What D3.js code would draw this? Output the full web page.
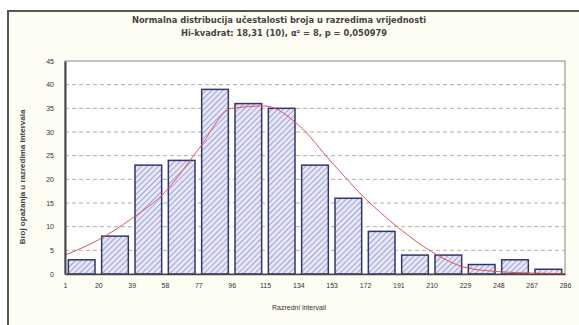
<!DOCTYPE html>
<html>
<head>
<meta charset="utf-8">
<script src="https://cdn.jsdelivr.net/npm/d3@7"></script>
<style>
  body { margin: 0; background: #fff; }
  svg { display: block; font-family: Arial, "Liberation Sans", sans-serif; }
</style>
</head>
<body>
<svg id="chart" width="579" height="325"></svg>
<script>
// class boundaries (x tick labels)
const classBounds = [1, 20, 39, 58, 77, 96, 115, 134, 153, 172, 191, 210, 229, 248, 267, 286]
// observed frequency per class
const frequencies = [3, 8, 23, 24, 39, 36, 35, 23, 16, 9, 4, 4, 2, 3, 1]
// expected (normal) frequency at the class boundaries
const expected = [4, 7.2, 11.7, 17.3, 26.3, 35, 35.5, 31.5, 23.6, 16, 9.8, 4.7, 1.4, 0.5, 0.2, 0.05]
const yTicks = [0, 5, 10, 15, 20, 25, 30, 35, 40, 45]

const titleLine1 = 'Normalna distribucija učestalosti broja u razredima vrijednosti'
const titleLine2 = 'Hi-kvadrat: 18,31 (10), α² = 8, p = 0,050979'

const margin = { top: 61, right: 14, bottom: 51, left: 65 }
const width = 579 - margin.left - margin.right
const height = 325 - margin.top - margin.bottom

const svg = d3.select('#chart')

// chart background + frame
svg.append('rect')
  .attr('x', 8).attr('y', 11)
  .attr('width', 580).attr('height', 320)
  .attr('fill', '#fdfdf3')
  .attr('stroke', '#555')
  .attr('stroke-width', 2)

// hatch pattern for the bars
const defs = svg.append('defs')
const pat = defs.append('pattern')
  .attr('id', 'hatch')
  .attr('patternUnits', 'userSpaceOnUse')
  .attr('width', 4).attr('height', 4)
  .attr('patternTransform', 'rotate(45)')
pat.append('rect').attr('width', 4).attr('height', 4).attr('fill', '#e5e7f7')
pat.append('line')
  .attr('x1', 0).attr('y1', 0).attr('x2', 0).attr('y2', 4)
  .attr('stroke', '#7a7fc4').attr('stroke-width', 1.3)

const g = svg.append('g').attr('transform', `translate(${margin.left},${margin.top})`)

const x = d3.scaleLinear().domain([classBounds[0], classBounds[classBounds.length - 1]]).range([0, width])
const y = d3.scaleLinear().domain([0, 45]).range([height, 0])

// plot area
g.append('rect')
  .attr('width', width).attr('height', height)
  .attr('fill', '#fff')
  .attr('stroke', '#888')

// grid
g.selectAll('.grid')
  .data(yTicks.filter((d) => d > 0 && d < 45))
  .join('line')
  .attr('class', 'grid')
  .attr('x1', 0).attr('x2', width)
  .attr('y1', (d) => y(d)).attr('y2', (d) => y(d))
  .attr('stroke', '#9a9a9a')
  .attr('stroke-width', 0.8)
  .attr('stroke-dasharray', '4,3')

// bars
g.selectAll('.bar')
  .data(frequencies)
  .join('rect')
  .attr('class', 'bar')
  .attr('x', (d, i) => {
    const x0 = x(classBounds[i]), x1 = x(classBounds[i + 1])
    return x0 + (x1 - x0) * 0.1
  })
  .attr('width', (d, i) => (x(classBounds[i + 1]) - x(classBounds[i])) * 0.8)
  .attr('y', (d) => y(d))
  .attr('height', (d) => height - y(d))
  .attr('fill', 'url(#hatch)')
  .attr('stroke', '#34356b')
  .attr('stroke-width', 1.5)

// normal curve
const line = d3.line()
  .x((d, i) => x(classBounds[i]))
  .y((d) => y(d))
  .curve(d3.curveMonotoneX)

g.append('path')
  .datum(expected)
  .attr('fill', 'none')
  .attr('stroke', '#e0525a')
  .attr('stroke-width', 1)
  .attr('d', line)

// axes
g.append('g')
  .attr('transform', `translate(0,${height})`)
  .call(d3.axisBottom(x).tickValues(classBounds).tickSize(0).tickPadding(9))
  .call((a) => a.select('.domain').attr('stroke', '#444').attr('stroke-width', 1.5))
  .call((a) => a.selectAll('text').attr('font-size', 7).attr('fill', '#333').attr('font-family', 'Arial, sans-serif'))

g.append('g')
  .call(d3.axisLeft(y).tickValues(yTicks).tickSize(0).tickPadding(11))
  .call((a) => a.select('.domain').attr('stroke', '#444').attr('stroke-width', 2))
  .call((a) => a.selectAll('text').attr('font-size', 7).attr('fill', '#333').attr('font-family', 'Arial, sans-serif'))

// titles
svg.append('text')
  .attr('x', 279).attr('y', 23)
  .attr('text-anchor', 'middle')
  .attr('font-family', '"DejaVu Sans", sans-serif')
  .attr('font-size', 8.3).attr('font-weight', 'bold').attr('fill', '#444')
  .text(titleLine1)

svg.append('text')
  .attr('x', 284).attr('y', 36)
  .attr('text-anchor', 'middle')
  .attr('font-family', '"DejaVu Sans", sans-serif')
  .attr('font-size', 8.3).attr('font-weight', 'bold').attr('fill', '#444')
  .text(titleLine2)

svg.append('text')
  .attr('x', 299).attr('y', 310)
  .attr('text-anchor', 'middle')
  .attr('font-size', 7).attr('fill', '#333')
  .text('Razredni intervali')

svg.append('text')
  .attr('transform', 'translate(25,177) rotate(-90)')
  .attr('text-anchor', 'middle')
  .attr('font-size', 8).attr('font-weight', 'bold').attr('fill', '#444')
  .text('Broj opažanja u razredima intervala')
</script>
</body>
</html>
